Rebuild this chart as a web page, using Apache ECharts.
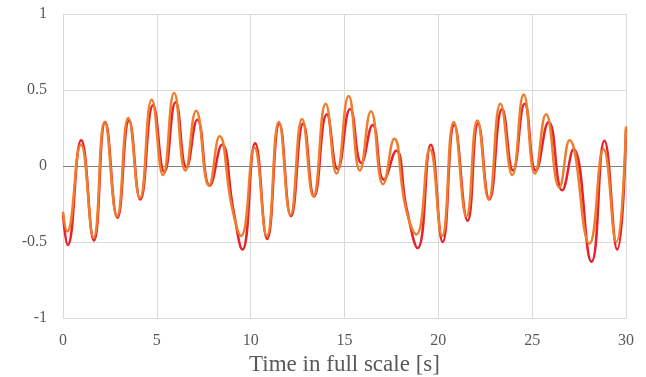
<!DOCTYPE html>
<html>
<head>
<meta charset="utf-8">
<script src="https://cdn.jsdelivr.net/npm/echarts@6/dist/echarts.min.js"></script>
<style>html,body{margin:0;padding:0;background:#fff;}#c{width:646px;height:377px;}</style>
</head>
<body>
<div id="c"></div>
<script>
var xTicks = [0, 5, 10, 15, 20, 25, 30];
var yTicks = [-1, -0.5, 0, 0.5, 1];
var xTitle = 'Time in full scale [s]';

var redT = [0, 0.25, 0.97, 1.65, 2.25, 2.9, 3.52, 4.12, 4.8, 5.4, 6.0, 6.58, 7.16, 7.82, 8.47, 9.08, 9.56, 10.24, 10.88, 11.53, 12.15, 12.8, 13.38, 14.06, 14.63, 15.3, 15.9, 16.5, 17.1, 17.75, 18.31, 18.9, 19.6, 20.23, 20.85, 21.56, 22.12, 22.72, 23.4, 23.98, 24.6, 25.2, 25.88, 26.6, 27.2, 28.16, 28.85, 29.53, 30];
var redV = [-0.32, -0.52, 0.17, -0.49, 0.29, -0.34, 0.30, -0.22, 0.40, -0.04, 0.42, -0.01, 0.305, -0.13, 0.14, -0.29, -0.55, 0.15, -0.48, 0.28, -0.33, 0.28, -0.20, 0.34, -0.02, 0.375, 0.02, 0.27, -0.09, 0.10, -0.28, -0.54, 0.14, -0.50, 0.27, -0.36, 0.28, -0.22, 0.375, -0.03, 0.41, -0.03, 0.29, -0.16, 0.11, -0.63, 0.166, -0.55, 0.24];

var orangeT = [0, 0.22, 0.95, 1.63, 2.22, 2.88, 3.48, 4.1, 4.73, 5.33, 5.92, 6.52, 7.09, 7.78, 8.34, 9.0, 9.49, 10.2, 10.86, 11.5, 12.12, 12.74, 13.34, 14.0, 14.58, 15.22, 15.82, 16.41, 17.06, 17.65, 18.25, 18.83, 19.55, 20.2, 20.82, 21.5, 22.08, 22.68, 23.31, 23.94, 24.55, 25.15, 25.74, 26.45, 26.99, 28.05, 28.8, 29.48, 30];
var orangeV = [-0.30, -0.43, 0.14, -0.47, 0.29, -0.33, 0.315, -0.21, 0.436, -0.06, 0.48, -0.03, 0.364, -0.13, 0.195, -0.27, -0.46, 0.12, -0.46, 0.29, -0.32, 0.31, -0.20, 0.41, -0.05, 0.46, -0.03, 0.36, -0.12, 0.18, -0.27, -0.45, 0.11, -0.46, 0.29, -0.33, 0.30, -0.22, 0.41, -0.06, 0.47, -0.05, 0.34, -0.14, 0.17, -0.51, 0.11, -0.50, 0.26];

function pairs(t, v) { return t.map(function (x, i) { return [x, v[i]]; }); }

var font = '"Liberation Serif", "Times New Roman", serif';
var chart = echarts.init(document.getElementById('c'), null, { renderer: 'canvas' });
chart.setOption({
  animation: false,
  grid: { left: 63, right: 20, top: 14, bottom: 59, containLabel: false, outerBoundsMode: 'none' },
  xAxis: {
    type: 'value', min: xTicks[0], max: xTicks[xTicks.length - 1], interval: 5,
    name: xTitle, nameLocation: 'middle', nameGap: 35,
    nameTextStyle: { fontFamily: font, fontSize: 23, color: '#595959' },
    axisLine: { show: false }, axisTick: { show: false },
    axisLabel: { fontFamily: font, fontSize: 16, color: '#595959', margin: 15 },
    splitLine: { show: true, lineStyle: { color: '#d9d9d9', width: 1 } }
  },
  yAxis: {
    type: 'value', min: yTicks[0], max: yTicks[yTicks.length - 1], interval: 0.5,
    axisLine: { show: false }, axisTick: { show: false },
    axisLabel: { fontFamily: font, fontSize: 16, color: '#595959', margin: 16, padding: [4, 0, 0, 0] },
    splitLine: { show: true, lineStyle: { color: '#d9d9d9', width: 1 } }
  },
  series: [
    {
      type: 'line', data: pairs(redT, redV), smooth: 0.5, showSymbol: false,
      lineStyle: { color: '#e8212a', width: 2.5 }, z: 3,
      markLine: {
        silent: true, symbol: ['none', 'none'], label: { show: false },
        lineStyle: { color: '#808080', width: 1, type: 'solid' },
        data: [{ yAxis: 0 }], z: 2
      }
    },
    {
      type: 'line', data: pairs(orangeT, orangeV), smooth: 0.5, showSymbol: false,
      lineStyle: { color: '#ee7d2e', width: 2.5 }, z: 4
    }
  ]
});
</script>
</body>
</html>
